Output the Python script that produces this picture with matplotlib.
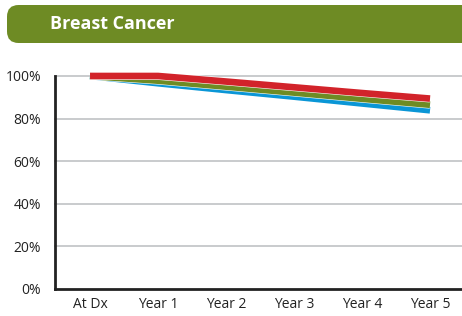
import matplotlib
matplotlib.use("Agg")
import matplotlib.pyplot as plt
from matplotlib.patches import FancyBboxPatch
import matplotlib.patheffects as pe

categories = ["At Dx", "Year 1", "Year 2", "Year 3", "Year 4", "Year 5"]
red_vals = [100, 100, 97.4, 94.7, 92.0, 89.4]
green_vals = [100, 97.8, 95.0, 92.2, 89.3, 86.5]
blue_vals = [100, 96.6, 93.4, 90.3, 87.1, 83.9]
yticks = [0, 20, 40, 60, 80, 100]
ytick_labels = ["0%", "20%", "40%", "60%", "80%", "100%"]
title = "Breast Cancer"

W, H = 462, 316
fig = plt.figure(figsize=(W / 100, H / 100), dpi=100)
fig.patch.set_facecolor("white")

# title bar
bar = FancyBboxPatch((7 / W, 1 - 43 / H), (W + 20) / W, 38 / H,
                     boxstyle="round,pad=0,rounding_size=0.025",
                     transform=fig.transFigure, facecolor="#6e8b24",
                     edgecolor="none", mutation_aspect=W / H)
fig.patches.append(bar)
fig.text(50 / W, 1 - 24 / H, title, color="white", fontsize=13,
         fontweight="bold", family="Open Sans", va="center", ha="left")

ax = fig.add_axes([55 / W, 1 - 289 / H, 1 - 55 / W, (289 - 76) / H])
x = list(range(len(categories)))
ax.set_xlim(-0.515, 5.47)
ax.set_ylim(0, 100)

for yv in yticks[1:]:
    ax.axhline(yv, color="#c9cbcd", lw=1.4, zorder=1, clip_on=False)

pe_w = [pe.Stroke(linewidth=5.6, foreground="white"), pe.Normal()]
ax.plot(x, blue_vals, color="#0a96d6", lw=4.8, solid_capstyle="butt",
        zorder=3, clip_on=False, path_effects=pe_w)
ax.plot(x, green_vals, color="#6e8b24", lw=4.8, solid_capstyle="butt",
        zorder=4, clip_on=False, path_effects=pe_w)
ax.plot(x, red_vals, color="#d2232a", lw=4.8, solid_capstyle="butt",
        zorder=5, clip_on=False, path_effects=pe_w)

ax.set_xticks(x)
ax.set_xticklabels(categories, fontsize=10, family="Open Sans", color="#222222")
ax.set_yticks(yticks)
ax.set_yticklabels(ytick_labels, fontsize=10, family="Open Sans", color="#222222")
ax.tick_params(axis="both", length=0)
ax.tick_params(axis="y", pad=10)
ax.tick_params(axis="x", pad=6)

for s in ["top", "right"]:
    ax.spines[s].set_visible(False)
for s in ["left", "bottom"]:
    ax.spines[s].set_color("#222222")
    ax.spines[s].set_linewidth(2)
ax.spines["left"].set_bounds(0, 100)

fig.savefig("out.png", dpi=100, facecolor="white")
